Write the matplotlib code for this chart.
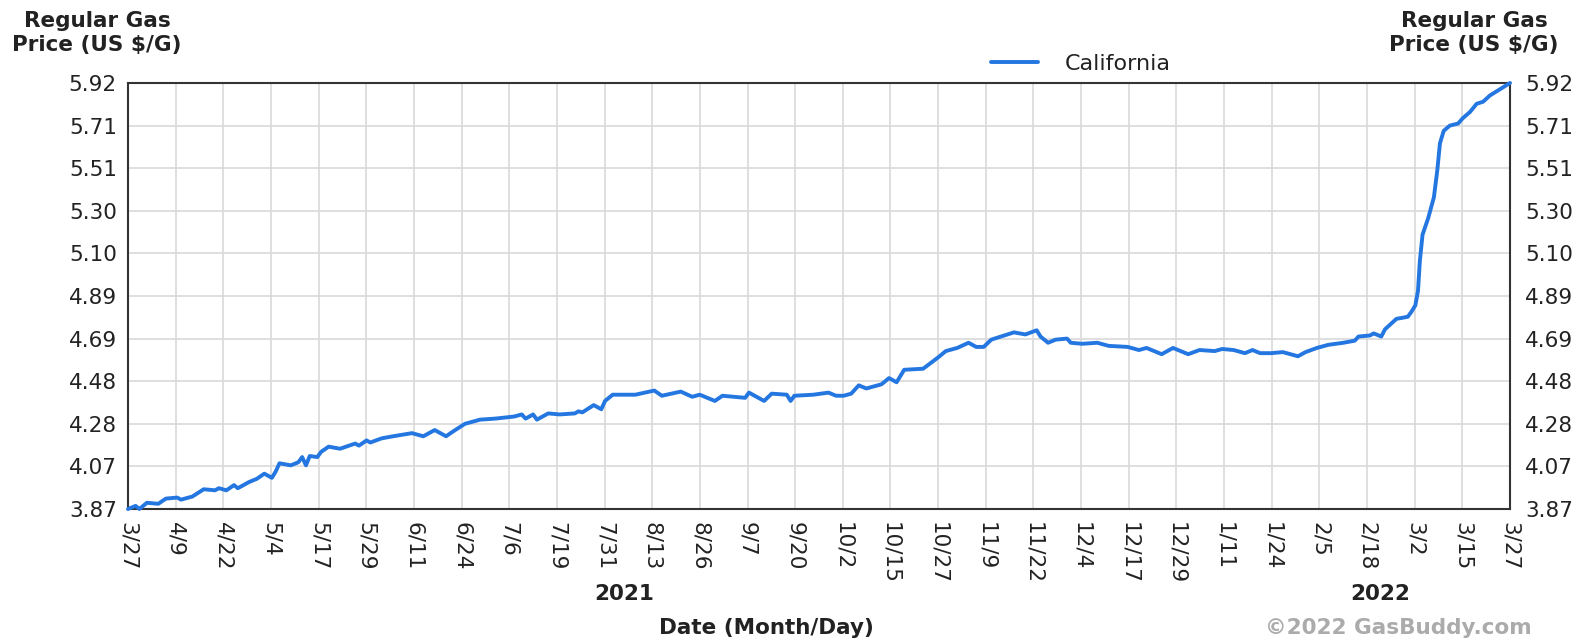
import matplotlib

matplotlib.use("Agg")
import matplotlib.pyplot as plt
import numpy as np

# California regular gas price, days after 2021-03-27
DAY_OFFSET = [
    0, 2, 3, 5, 8, 10, 13, 14, 17, 20, 23, 24, 26, 28, 29, 32, 34, 36, 38, 39,
    40, 43, 45, 46, 47, 48, 50, 51, 53, 56, 60, 61, 63, 64, 67, 70, 75, 76, 78,
    81, 82, 84, 86, 89, 93, 97, 102, 104, 105, 107, 108, 111, 114, 118, 119,
    120, 123, 125, 126, 128, 134, 139, 141, 146, 149, 151, 155, 157, 163, 164,
    168, 170, 174, 175, 176, 181, 185, 187, 189, 191, 193, 195, 199, 201, 203,
    205, 210, 214, 216, 219, 222, 224, 226, 228, 234, 237, 240, 241, 243, 245,
    248, 249, 252, 256, 259, 264, 267, 269, 273, 276, 280, 283, 287, 289, 292,
    295, 297, 299, 302, 305, 307, 309, 311, 314, 317, 321, 324, 325, 328, 329,
    331, 332, 335, 338, 339, 340, 340.7, 341.2, 341.9, 343.4, 344.9, 345.8,
    346.5, 347.5, 349.1, 351.3, 352.5, 354.4, 356.2, 357.9, 359.7, 361.9, 365,
]
PRICE = [
    3.87, 3.885, 3.87, 3.90, 3.895, 3.92, 3.925, 3.915, 3.93, 3.965, 3.96, 3.97,
    3.96, 3.985, 3.97, 4.00, 4.015, 4.04, 4.02, 4.05, 4.09, 4.08, 4.095, 4.12,
    4.08, 4.125, 4.12, 4.145, 4.17, 4.16, 4.185, 4.175, 4.20, 4.19, 4.21, 4.22,
    4.235, 4.23, 4.22, 4.25, 4.24, 4.22, 4.245, 4.28, 4.30, 4.305, 4.315, 4.325,
    4.305, 4.325, 4.30, 4.33, 4.325, 4.33, 4.34, 4.335, 4.37, 4.35, 4.39, 4.42,
    4.42, 4.44, 4.415, 4.435, 4.41, 4.42, 4.39, 4.415, 4.405, 4.43, 4.39, 4.425,
    4.42, 4.39, 4.415, 4.42, 4.43, 4.415, 4.415, 4.425, 4.465, 4.45, 4.47, 4.50,
    4.48, 4.54, 4.545, 4.60, 4.63, 4.645, 4.67, 4.65, 4.65, 4.685, 4.72, 4.71,
    4.73, 4.70, 4.67, 4.685, 4.69, 4.67, 4.665, 4.67, 4.655, 4.65, 4.635, 4.645,
    4.615, 4.645, 4.615, 4.635, 4.63, 4.64, 4.635, 4.62, 4.635, 4.62, 4.62,
    4.625, 4.615, 4.605, 4.625, 4.645, 4.66, 4.67, 4.68, 4.70, 4.705, 4.715,
    4.70, 4.735, 4.785, 4.795, 4.82, 4.85, 4.92, 5.065, 5.19, 5.27, 5.37, 5.50,
    5.63, 5.69, 5.715, 5.725, 5.75, 5.78, 5.82, 5.83, 5.86, 5.885, 5.92,
]

XTICK_LABELS = [
    "3/27", "4/9", "4/22", "5/4", "5/17", "5/29", "6/11", "6/24", "7/6", "7/19",
    "7/31", "8/13", "8/26", "9/7", "9/20", "10/2", "10/15", "10/27", "11/9",
    "11/22", "12/4", "12/17", "12/29", "1/11", "1/24", "2/5", "2/18", "3/2",
    "3/15", "3/27",
]
YTICK_LABELS = ["3.87", "4.07", "4.28", "4.48", "4.69", "4.89", "5.10",
                "5.30", "5.51", "5.71", "5.92"]

LINE_COLOR = "#2476e0"
TEXT = "#222222"


def main():
    W, H = 1586, 641
    fig = plt.figure(figsize=(W / 100, H / 100), dpi=100)
    left, right, top, bottom = 128, 1510, 83, 509
    ax = fig.add_axes([left / W, 1 - bottom / H, (right - left) / W, (bottom - top) / H])

    xt = np.linspace(0, 365, len(XTICK_LABELS))
    yt = np.linspace(3.87, 5.92, len(YTICK_LABELS))

    ax.plot(DAY_OFFSET, PRICE, color=LINE_COLOR, lw=2.8, solid_joinstyle="round",
            solid_capstyle="round", label="California", clip_on=False, zorder=3)

    ax.set_xlim(0, 365)
    ax.set_ylim(3.87, 5.92)
    ax.set_xticks(xt)
    ax.set_xticklabels(XTICK_LABELS, rotation=270, fontsize=15.5, color=TEXT)
    ax.set_yticks(yt)
    ax.set_yticklabels(YTICK_LABELS, fontsize=15.5, color=TEXT)
    ax.tick_params(axis="both", length=0)
    ax.tick_params(axis="x", pad=9)
    ax.tick_params(axis="y", pad=8)
    ax.grid(True, color="#d9d9d9", lw=1.2)
    ax.set_axisbelow(True)
    for s in ax.spines.values():
        s.set_color("#333333")
        s.set_linewidth(1.5)

    # right-hand copy of the price axis
    ax2 = ax.twinx()
    ax2.set_ylim(3.87, 5.92)
    ax2.set_yticks(yt)
    ax2.set_yticklabels(YTICK_LABELS, fontsize=15.5, color=TEXT)
    ax2.tick_params(axis="y", length=0, pad=11)
    for s in ax2.spines.values():
        s.set_visible(False)

    ylab = "Regular Gas\nPrice (US $/G)"
    fig.text(97 / W, 1 - 33 / H, ylab, ha="center", va="center", fontsize=15.5,
             weight="bold", color=TEXT, linespacing=1.25)
    fig.text(1474 / W, 1 - 33 / H, ylab, ha="center", va="center", fontsize=15.5,
             weight="bold", color=TEXT, linespacing=1.25)

    fig.text(624 / W, 1 - 594 / H, "2021", ha="center", va="center", fontsize=15.5,
             weight="bold", color=TEXT)
    fig.text(1380 / W, 1 - 594 / H, "2022", ha="center", va="center", fontsize=15.5,
             weight="bold", color=TEXT)
    fig.text(766 / W, 1 - 628 / H, "Date (Month/Day)", ha="center", va="center",
             fontsize=15.5, weight="bold", color=TEXT)
    fig.text(1398 / W, 1 - 628 / H, "\u00a92022 GasBuddy.com", ha="center",
             va="center", fontsize=15.5, weight="bold", color="#ababab")

    ax.legend(loc="center left", bbox_to_anchor=(980 / W, 1 - 64 / H),
              bbox_transform=fig.transFigure, frameon=False, fontsize=16,
              handlelength=2.1, handletextpad=1.2, borderpad=0, labelcolor=TEXT)

    fig.savefig("out.png", dpi=100)


if __name__ == "__main__":
    main()
